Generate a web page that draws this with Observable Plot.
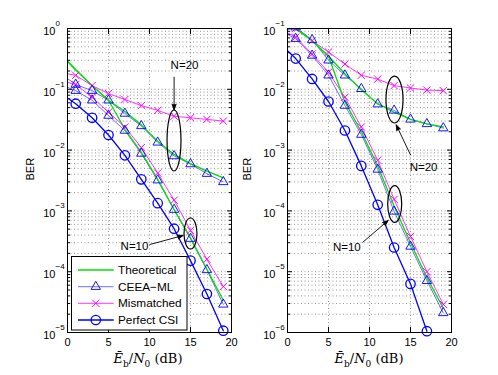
<!DOCTYPE html>
<html><head><meta charset="utf-8">
<script src="https://cdn.jsdelivr.net/npm/d3@7"></script>
<script src="https://cdn.jsdelivr.net/npm/@observablehq/plot@0.6"></script>
<style>
body{margin:0;background:#fff;}
#wrap{position:relative;width:498px;height:375px;overflow:hidden;font-family:"Liberation Sans",Arial,sans-serif;}
.panel{position:absolute;top:0;}
.xl{position:absolute;font-family:"DejaVu Serif",serif;font-size:13px;white-space:nowrap;transform:translate(-50%,-50%);color:#000;}
.xl sub{font-size:9px;}
</style></head><body>
<div id="wrap"></div>
<script>
// ---------- data ----------
const snr = [0, 1, 3, 5, 7, 9, 11, 13, 15, 17, 19];
const xTicks = [0, 5, 10, 15, 20];
const seriesNames = ["Theoretical", "CEEA\u2212ML", "Mismatched", "Perfect CSI"];

// left panel
const L_theory20 = [0.29, 0.21, 0.115, 0.066, 0.043, 0.026, 0.014, 0.0085, 0.006, 0.0045, 0.0035];
const L_theory10 = [0.29, 0.21, 0.115, 0.066, 0.022, 0.0092, 0.0033, 0.00105, 0.00036, 0.00011, 0.000034];
const L_ceea20   = [0.15, 0.12, 0.095, 0.066, 0.040, 0.025, 0.0134, 0.008, 0.0059, 0.0041, 0.003];
const L_ceea10   = [0.108, 0.095, 0.066, 0.037, 0.021, 0.0088, 0.0032, 0.00105, 0.00035, 0.000107, 0.000029];
const L_mis20    = [0.18, 0.17, 0.115, 0.085, 0.068, 0.054, 0.045, 0.036, 0.034, 0.032, 0.030];
const L_mis10    = [0.13, 0.12, 0.074, 0.042, 0.024, 0.011, 0.0042, 0.0015, 0.00048, 0.00016, 0.000057];
const L_csi      = [0.072, 0.058, 0.034, 0.0177, 0.0082, 0.0033, 0.00134, 0.00051, 0.000152, 0.000043, 0.0000107];
const L_yDomain  = [1e-5, 1];
const L_ellipses = [{x1: 12.2, x2: 13.9, y1: 0.0448, y2: 0.00445}, {x1: 14.27, x2: 15.85, y1: 7.5e-4, y2: 2.32e-4}];
const L_arrows   = [{x1: 13, y1: 0.158, x2: 13, y2: 0.046}, {x1: 10.04, y1: 2.8e-4, x2: 14.1, y2: 3.94e-4}];
const L_notes    = [{x: 14.27, y: 0.246, t: "N=20"}, {x: 8.17, y: 2.63e-4, t: "N=10"}];

// right panel
const R_theory20 = [0.14, 0.1, 0.063, 0.035, 0.018, 0.0098, 0.0058, 0.0042, 0.0032, 0.0027, 0.0024];
const R_theory10 = [0.14, 0.1, 0.063, 0.035, 0.0062, 0.002, 0.00055, 0.00012, 0.00003, 0.000008, 0.0000025];
const R_ceea20   = [0.095, 0.105, 0.065, 0.030, 0.017, 0.0102, 0.0057, 0.0045, 0.0032, 0.0027, 0.0023];
const R_ceea10   = [0.08, 0.068, 0.036, 0.017, 0.0054, 0.0018, 0.00048, 0.000098, 0.000026, 0.0000071, 0.0000021];
const R_mis20    = [0.11, 0.1, 0.063, 0.041, 0.026, 0.017, 0.0147, 0.0115, 0.0105, 0.0097, 0.0095];
const R_mis10    = [0.085, 0.072, 0.038, 0.019, 0.0074, 0.0024, 0.00068, 0.000155, 0.000038, 0.00001, 0.0000029];
const R_csi      = [0.043, 0.032, 0.0148, 0.0063, 0.0021, 0.00055, 0.000126, 0.000025, 0.0000063, 0.00000105, null];
const R_yDomain  = [1e-6, 1e-1];
const R_ellipses = [{x1: 12.07, x2: 14.15, y1: 0.01615, y2: 0.00274}, {x1: 12.28, x2: 13.99, y1: 2.56e-4, y2: 6.37e-5}];
const R_arrows   = [{x1: 15.0, y1: 8.34e-4, x2: 13.26, y2: 2.6e-3}, {x1: 9.18, y1: 3.05e-5, x2: 12.28, y2: 6.97e-5}];
const R_notes    = [{x: 16.59, y: 5.28e-4, t: "N=20"}, {x: 7.23, y: 2.56e-5, t: "N=10"}];

// ---------- styles ----------
const C_GREEN = "#00e000", C_BLUE = "#0000ff", C_CEEA = "#3030ff", C_MAG = "#ff00ff";
const FONT = "'Liberation Sans', Arial, sans-serif";
const TRI_R = 4.5, X_R = 3.4;

const rows = ys => snr.map((x, i) => ({x, y: ys[i]})).filter(d => d.y != null);
const marks = ys => rows(ys).filter(d => d.x % 2 === 1);

function panel({theory20, theory10, ceea20, ceea10, mis20, mis10, csi, yDomain, ellipses, arrows, notes, width, marginLeft, marginRight, berDx}) {
  const eLo = Math.round(Math.log10(yDomain[0])), eHi = Math.round(Math.log10(yDomain[1]));
  const majors = d3.range(eLo, eHi + 1).map(e => Math.pow(10, e));
  const minors = [];
  for (let e = eLo; e < eHi; e++) for (let k = 2; k <= 9; k++) minors.push(k * Math.pow(10, e));
  const grid = {stroke: "#6a6a6a", strokeWidth: 0.7, strokeDasharray: "1,2.5"};
  const blank = () => "";
  const p = Plot.plot({
    width, height: 375,
    marginLeft, marginRight, marginTop: 28, marginBottom: 43,
    style: {fontFamily: FONT, fontSize: "11px", background: "transparent", color: "black"},
    x: {domain: [0, 20]},
    y: {type: "log", domain: yDomain},
    marks: [
      Plot.ruleY(majors.concat(minors), {...grid}),
      Plot.ruleX([5, 10, 15], {...grid}),
      // tick marks pointing inward
      Plot.axisX(xTicks, {anchor: "bottom", tickSize: -5, tickFormat: blank}),
      Plot.axisX(xTicks, {anchor: "top", tickSize: -5, tickFormat: blank}),
      Plot.axisY(majors, {anchor: "left", tickSize: -5, tickFormat: blank}),
      Plot.axisY(majors, {anchor: "right", tickSize: -5, tickFormat: blank}),
      Plot.axisY(minors, {anchor: "left", tickSize: -3, tickFormat: blank}),
      Plot.axisY(minors, {anchor: "right", tickSize: -3, tickFormat: blank}),
      Plot.axisX(xTicks, {anchor: "bottom", tickSize: 0, tickPadding: 6, fontSize: 11}),
      Plot.text(majors, {y: d => d, frameAnchor: "left", text: () => "10", textAnchor: "end", dx: -12, dy: 3, fontSize: 11}),
      Plot.text(majors, {y: d => d, frameAnchor: "left", text: d => { const e = Math.round(Math.log10(d)); return e < 0 ? "\u2212" + (-e) : String(e); }, textAnchor: "start", dx: -12, dy: -5, fontSize: 8}),
      Plot.text(["BER"], {frameAnchor: "left", rotate: -90, dx: berDx, fontSize: 11}),
      // series
      Plot.line(rows(mis20), {x: "x", y: "y", stroke: C_MAG, strokeWidth: 0.8, clip: true}),
      Plot.line(rows(mis10), {x: "x", y: "y", stroke: C_MAG, strokeWidth: 0.8, clip: true}),
      Plot.line(rows(ceea20), {x: "x", y: "y", stroke: C_CEEA, strokeWidth: 0.7, clip: true}),
      Plot.line(rows(ceea10), {x: "x", y: "y", stroke: C_CEEA, strokeWidth: 0.7, clip: true}),
      Plot.line(rows(theory20), {x: "x", y: "y", stroke: C_GREEN, strokeWidth: 1.3, clip: true}),
      Plot.line(rows(theory10), {x: "x", y: "y", stroke: C_GREEN, strokeWidth: 1.3, clip: true}),
      Plot.line(rows(csi), {x: "x", y: "y", stroke: C_BLUE, strokeWidth: 1.3, clip: true}),
      Plot.dot(marks(mis20), {x: "x", y: "y", symbol: "times", r: X_R, stroke: C_MAG, strokeWidth: 1, clip: true}),
      Plot.dot(marks(mis10), {x: "x", y: "y", symbol: "times", r: X_R, stroke: C_MAG, strokeWidth: 1, clip: true}),
      Plot.dot(marks(ceea20), {x: "x", y: "y", symbol: "triangle2", r: TRI_R, stroke: C_BLUE, strokeWidth: 0.9, clip: true}),
      Plot.dot(marks(ceea10), {x: "x", y: "y", symbol: "triangle2", r: TRI_R, stroke: C_BLUE, strokeWidth: 0.9, clip: true}),
      Plot.dot(marks(csi), {x: "x", y: "y", r: 4.7, stroke: C_BLUE, strokeWidth: 1.3, fill: "none"}),
      // annotations
      Plot.rect(ellipses, {x1: "x1", x2: "x2", y1: "y1", y2: "y2", rx: 100, ry: 100, fill: "none", stroke: "black", strokeWidth: 1.2}),
      Plot.arrow(arrows, {x1: "x1", y1: "y1", x2: "x2", y2: "y2", stroke: "black", strokeWidth: 0.9, headLength: 10, headAngle: 40}),
      Plot.text(notes, {x: "x", y: "y", text: "t", fontSize: 11.5}),
      Plot.frame({stroke: "black", strokeWidth: 1})
    ]
  });
  d3.select(p).selectAll('g[aria-label="arrow"] path').attr("fill", "black");
  return p;
}

const wrap = document.getElementById("wrap");

const left = panel({theory20: L_theory20, theory10: L_theory10, ceea20: L_ceea20, ceea10: L_ceea10, mis20: L_mis20, mis10: L_mis10, csi: L_csi,
  yDomain: L_yDomain, ellipses: L_ellipses, arrows: L_arrows, notes: L_notes, width: 249, marginLeft: 67, marginRight: 18, berDx: -37});
left.classList.add("panel"); left.style.left = "0px";
wrap.appendChild(left);

const right = panel({theory20: R_theory20, theory10: R_theory10, ceea20: R_ceea20, ceea10: R_ceea10, mis20: R_mis20, mis10: R_mis10, csi: R_csi,
  yDomain: R_yDomain, ellipses: R_ellipses, arrows: R_arrows, notes: R_notes, width: 279, marginLeft: 68, marginRight: 47, berDx: -40});
right.classList.add("panel"); right.style.left = "219px";
wrap.appendChild(right);

// x labels
for (const cx of [148, 369]) {
  const d = document.createElement("div");
  d.className = "xl";
  d.style.left = cx + "px"; d.style.top = "360px";
  d.innerHTML = "<i>E\u0304</i><sub>b</sub>/<i>N</i><sub>0</sub> (dB)";
  wrap.appendChild(d);
}

// legend (inside left panel)
const leg = d3.create("svg").attr("width", 249).attr("height", 375)
  .style("position", "absolute").style("left", "0px").style("top", "0px").style("font-family", FONT);
leg.append("rect").attr("x", 71.5).attr("y", 256.5).attr("width", 115.5).attr("height", 73.5)
  .attr("fill", "white").attr("stroke", "black").attr("stroke-width", 1);
const legRows = [
  {name: seriesNames[0], color: C_GREEN, w: 1.3, sym: null},
  {name: seriesNames[1], color: C_CEEA, w: 0.7, sym: "tri"},
  {name: seriesNames[2], color: C_MAG, w: 0.8, sym: "x"},
  {name: seriesNames[3], color: C_BLUE, w: 1.3, sym: "o"}
];
const rowY = [270, 286.7, 303.3, 320];
legRows.forEach((r, i) => {
  const y = rowY[i];
  leg.append("line").attr("x1", 78).attr("x2", 113.7).attr("y1", y).attr("y2", y).attr("stroke", r.color).attr("stroke-width", r.w);
  const cx = 95.8;
  if (r.sym === "tri") leg.append("path").attr("d", d3.symbol(d3.symbolTriangle2, TRI_R * TRI_R * Math.PI)()).attr("transform", `translate(${cx},${y})`).attr("fill", "none").attr("stroke", C_BLUE).attr("stroke-width", 0.9);
  if (r.sym === "x") leg.append("path").attr("d", d3.symbol(d3.symbolTimes, X_R * X_R * Math.PI)()).attr("transform", `translate(${cx},${y})`).attr("fill", "none").attr("stroke", C_MAG).attr("stroke-width", 1);
  if (r.sym === "o") leg.append("circle").attr("cx", cx).attr("cy", y).attr("r", 4.7).attr("fill", "none").attr("stroke", C_BLUE).attr("stroke-width", 1.3);
  leg.append("text").attr("x", 118).attr("y", y).attr("dy", "0.35em").attr("font-size", 11.8).text(r.name);
});
wrap.appendChild(leg.node());
</script>
</body></html>
